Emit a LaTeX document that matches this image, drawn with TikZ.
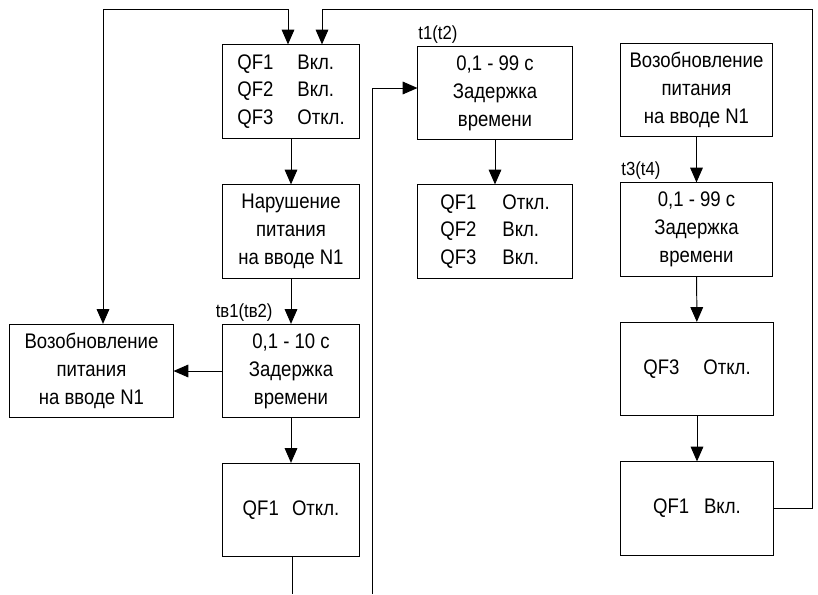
\documentclass[tikz,border=0pt]{standalone}
\usepackage{fontspec}
\setmainfont{Liberation Sans}[FakeStretch=0.88]
\usetikzlibrary{arrows.meta, positioning, calc}

\begin{document}
\begin{tikzpicture}[x=0.025cm, y=-0.025cm, line width=0.7pt,
    blk/.style={draw, inner sep=0pt, align=left, minimum height=2.33cm,
        font=\fontsize{15}{19.8}\selectfont},
    lbl/.style={inner sep=0pt, anchor=base west, font=\fontsize{13.5}{15}\selectfont},
    >={Triangle[length=10.5pt, width=9pt]}]

\useasboundingbox (0,0) rectangle (818,594);

% rama izquierda
\node[blk, minimum width=3.4cm] (qfOn) at (291,91.5)
    {QF1\hspace{0.6cm}Вкл.\\QF2\hspace{0.6cm}Вкл.\\QF3\hspace{0.6cm}Откл.};
\node[blk, minimum width=3.4cm, align=center] (fail) at (291,231.5)
    {Нарушение\\питания\\на вводе N1};
\node[blk, minimum width=3.4cm, align=center] (tb) at (291,371)
    {0,1 - 10 с\\Задержка\\времени};
\node[blk, minimum width=4.075cm, align=center] (restL) at (91.5,371)
    {Возобновление\\питания\\на вводе N1};
\node[blk, minimum width=3.4cm] (qf1Off) at (291,510) {QF1\hspace{0.33cm}Откл.};
\node[lbl, anchor=base east] (tbLbl) at (273,317) {tв1(tв2)};

% rama central
\node[blk, minimum width=3.85cm, align=center] (t12) at (495,93)
    {0,1 - 99 с\\Задержка\\времени};
\node[blk, minimum width=3.85cm] (qfSw) at (495,231.5)
    {QF1\hspace{0.65cm}Откл.\\QF2\hspace{0.65cm}Вкл.\\QF3\hspace{0.65cm}Вкл.};
\node[lbl] (t12Lbl) at (418,39) {t1(t2)};

% rama derecha
\node[blk, minimum width=3.775cm, align=center] (restR) at (696.5,90)
    {Возобновление\\питания\\на вводе N1};
\node[blk, minimum width=3.775cm, align=center] (t34) at (696.5,229.5)
    {0,1 - 99 с\\Задержка\\времени};
\node[blk, minimum width=3.8cm] (qf3Off) at (697,369) {QF3\hspace{0.6cm}Откл.};
\node[blk, minimum width=3.8cm] (qf1On) at (697,508.5) {QF1\hspace{0.37cm}Вкл.};
\node[lbl] (t34Lbl) at (621,175) {t3(t4)};

% salidas libres abajo
\coordinate (outE) at (292,594);
\coordinate (inF) at (372,594);

% flechas
\draw[->] (qfOn) -- (fail);
\draw[->] (fail) -- (tb);
\draw[->] (tb) -- (qf1Off);
\draw[->] (tb) -- (restL);
\draw (qf1Off.south -| outE) -- (outE);
\draw[<->] ($(restL.north)+(11.5,0)$) |- (288,9) -- ($(qfOn.north)+(-3,0)$);
\draw[->] (qf1On.east) -| (812,9) -| ($(qfOn.north)+(31,0)$);
\draw[->] (inF) |- ($(t12.west)+(0,-5)$);
\draw[->] (t12) -- (qfSw);
\draw[->] (restR) -- (t34);
\draw[->] (t34) -- (qf3Off);
\draw[->] (qf3Off) -- (qf1On);

\end{tikzpicture}
\end{document}
